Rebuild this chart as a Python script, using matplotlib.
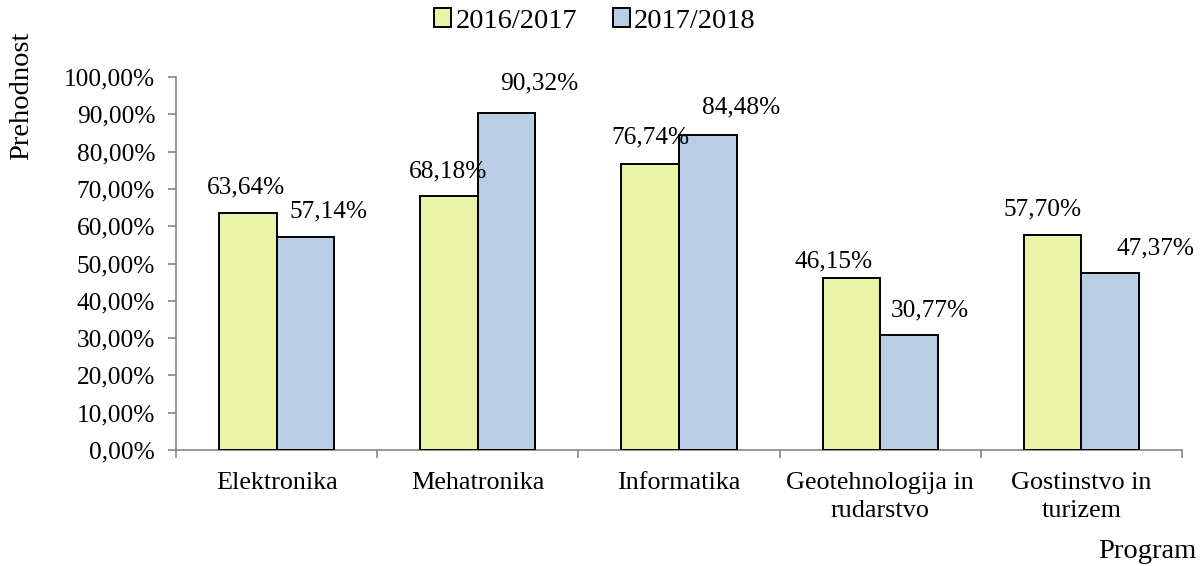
import matplotlib
matplotlib.use("Agg")
import matplotlib.pyplot as plt
import numpy as np
from matplotlib.ticker import FuncFormatter

plt.rcParams['font.family'] = ['Liberation Serif', 'DejaVu Serif']

categories = ["Elektronika", "Mehatronika", "Informatika",
              "Geotehnologija in\nrudarstvo", "Gostinstvo in\nturizem"]
series_names = ["2016/2017", "2017/2018"]
values_2016 = [63.64, 68.18, 76.74, 46.15, 57.70]
values_2017 = [57.14, 90.32, 84.48, 30.77, 47.37]
y_ticks = [0, 10, 20, 30, 40, 50, 60, 70, 80, 90, 100]

# label offsets in pixels (dx, dy above bar top)
off_2016 = [(-2, 25), (-1, 24), (0, 26), (-18, 16), (-10, 25)]
off_2017 = [(23, 25), (33, 30), (33, 27), (21, 25), (45, 25)]

colors = ["#e9f4a6", "#b9cde5"]

fig = plt.figure(figsize=(12.04, 5.66), dpi=100)
ax = fig.add_axes([176/1204, 1 - 450/566, (1182 - 176)/1204, (450 - 77)/566])

x = np.arange(len(categories))
w = 0.286
b1 = ax.bar(x - w/2, values_2016, w, color=colors[0], edgecolor="black", linewidth=1.4,
            label=series_names[0], zorder=3)
b2 = ax.bar(x + w/2, values_2017, w, color=colors[1], edgecolor="black", linewidth=1.4,
            label=series_names[1], zorder=3)

def fmt(v):
    return f"{v:.2f}".replace(".", ",") + "%"

FS = 18.3
px = 72 / 100
for bars, vals, offs in ((b1, values_2016, off_2016), (b2, values_2017, off_2017)):
    for rect, v, (dx, dy) in zip(bars, vals, offs):
        ax.annotate(fmt(v), (rect.get_x() + rect.get_width()/2, v),
                    xytext=(dx*px, dy*px), textcoords="offset points",
                    ha="center", va="center", fontsize=FS, zorder=5)

ax.set_xlim(-0.5, len(categories) - 0.5)
ax.set_ylim(0, 100)
ax.set_yticks(y_ticks)
ax.yaxis.set_major_formatter(FuncFormatter(lambda v, p: f"{v:.2f}".replace(".", ",") + "%"))
ax.set_xticks(x)
ax.set_xticklabels(categories, fontsize=18.8, linespacing=1.38)
ax.set_xticks(np.arange(len(categories) + 1) - 0.5, minor=True)
ax.tick_params(axis="x", which="major", length=0, pad=15.5)
ax.tick_params(axis="x", which="minor", length=6, color="#868686", width=1.2)
ax.tick_params(axis="y", length=6, color="#868686", width=1.2, labelsize=FS, pad=9)

for s in ("top", "right"):
    ax.spines[s].set_visible(False)
for s in ("left", "bottom"):
    ax.spines[s].set_color("#868686")
    ax.spines[s].set_linewidth(1.2)

fig.text(22/1204, 1 - 96/566, "Prehodnost", rotation=90, ha="center", va="center", fontsize=20.5)
fig.text(1196/1204, 1 - 552/566, "Program", ha="right", va="center", fontsize=20.5)

leg = fig.legend(handles=[b1, b2], labels=series_names, loc="center",
                 bbox_to_anchor=(595/1204, 1 - 21/566), ncol=2, frameon=False,
                 fontsize=20.5, handlelength=0.6, handleheight=0.6,
                 handletextpad=0.15, columnspacing=1.25)

fig.savefig("out.png", dpi=100)
